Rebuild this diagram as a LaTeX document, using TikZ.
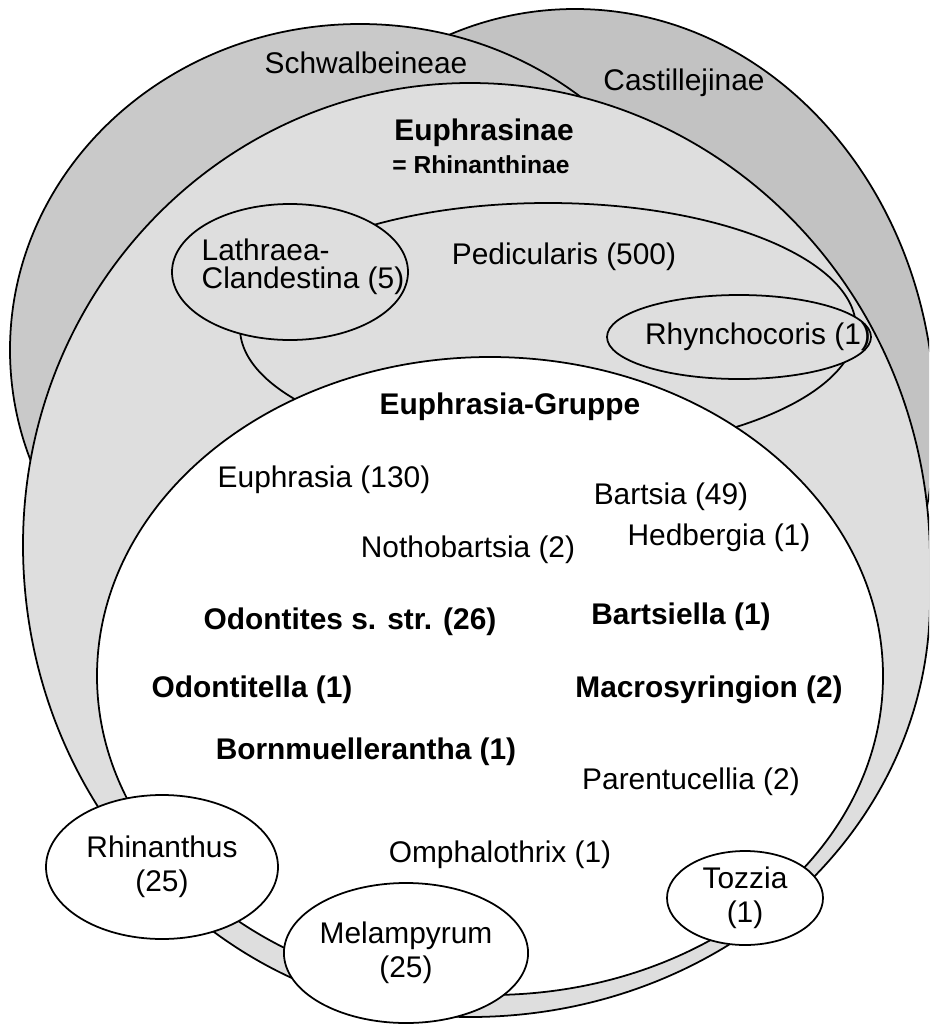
\documentclass[tikz,border=0pt]{standalone}
\usepackage{fontspec}
\setmainfont{Liberation Sans}
\usetikzlibrary{shapes.geometric}

\definecolor{tribedark}{gray}{0.76}
\definecolor{tribemid}{gray}{0.79}
\definecolor{subtribe}{gray}{0.87}

\begin{document}
\begin{tikzpicture}[x=1cm,y=1cm]
\tikzset{
  region/.style={draw,line width=1pt},
  taxonnode/.style={ellipse,draw,line width=1pt,fill=white,inner sep=0pt,align=center,font=\fontsize{17}{19.5}\selectfont},
  genus/.style={font=\fontsize{17}{19.5}\selectfont,inner sep=1pt},
  genusbold/.style={font=\fontsize{17}{19.5}\selectfont\bfseries,inner sep=1pt}
}
\clip (0,0) rectangle (18.58,-20.52);
% tribes
\filldraw[region,fill=tribedark] (11.5,-8.4) ellipse [x radius=7.2,y radius=8.22];
\filldraw[region,fill=tribemid] (7.2,-7.0) ellipse [x radius=7.0,y radius=6.52];
% Euphrasinae (four quarter arcs) and its groups
\filldraw[region,fill=subtribe] (0.46,-10.9)
  arc[start angle=180,end angle=90,x radius=8.94,y radius=9.24]
  arc[start angle=90,end angle=0,x radius=9.2,y radius=9.54]
  -- ++(0,-0.8)
  arc[start angle=0,end angle=-90,x radius=9.2,y radius=8.34]
  arc[start angle=-90,end angle=-180,x radius=8.94,y radius=9.44] -- cycle;
\filldraw[region,fill=subtribe] (10.96,-6.56) ellipse [x radius=6.16,y radius=2.5];
\filldraw[region,fill=subtribe] (5.8,-5.44) ellipse [x radius=2.36,y radius=1.36];
\filldraw[region,fill=subtribe] (14.78,-6.74) ellipse [x radius=2.64,y radius=0.84];
\filldraw[region,fill=white] (9.8,-13.52) ellipse [x radius=7.86,y radius=6.38];
% genera on the rim
\node[taxonnode,minimum width=4.64cm,minimum height=2.88cm] (n_rhinanthus) at (3.24,-17.34) {Rhinanthus\\(25)};
\node[taxonnode,minimum width=4.72cm,minimum height=2.8cm] (n_melampyrum) at (8.12,-19.06) {Melampyrum\\(25)};
\node[taxonnode,minimum width=3.12cm,minimum height=1.88cm] (n_tozzia) at (14.9,-17.96) {Tozzia\\(1)};
% labels
\node[genus] (n_schwalbeineae) at (7.32,-1.26) {Schwalbeineae};
\node[genus] (n_castillejinae) at (13.68,-1.66) {Castillejinae};
\node[genusbold] (n_euphrasinae) at (9.68,-2.66) {Euphrasinae};
\node[font=\fontsize{14}{16}\selectfont\bfseries,inner sep=1pt] (n_rhinanthinae) at (9.62,-3.3) {= Rhinanthinae};
\node[genus,align=left,font=\fontsize{17}{16}\selectfont] (n_lathraea) at (6.06,-5.34) {Lathraea-\\Clandestina (5)};
\node[genus] (n_pedicularis) at (11.28,-5.14) {Pedicularis (500)};
\node[genus] (n_rhynchocoris) at (15.16,-6.74) {Rhynchocoris (1)};
\node[genusbold] (n_gruppe) at (10.2,-8.14) {Euphrasia-Gruppe};
\node[genus] (n_euphrasia) at (6.48,-9.6) {Euphrasia (130)};
\node[genus] (n_bartsia) at (13.42,-9.94) {Bartsia (49)};
\node[genus] (n_nothobartsia) at (9.36,-11.0) {Nothobartsia (2)};
\node[genus] (n_hedbergia) at (14.38,-10.76) {Hedbergia (1)};
\node[genusbold] (n_odontites) at (7.0,-12.44) {Odontites s. str. (26)};
\node[genusbold] (n_bartsiella) at (13.62,-12.34) {Bartsiella (1)};
\node[genusbold] (n_odontitella) at (5.04,-13.8) {Odontitella (1)};
\node[genusbold] (n_macrosyringion) at (14.18,-13.8) {Macrosyringion (2)};
\node[genusbold] (n_bornmuellerantha) at (7.32,-15.04) {Bornmuellerantha (1)};
\node[genus] (n_parentucellia) at (13.82,-15.64) {Parentucellia (2)};
\node[genus] (n_omphalothrix) at (10.0,-17.1) {Omphalothrix (1)};
\end{tikzpicture}
\end{document}
